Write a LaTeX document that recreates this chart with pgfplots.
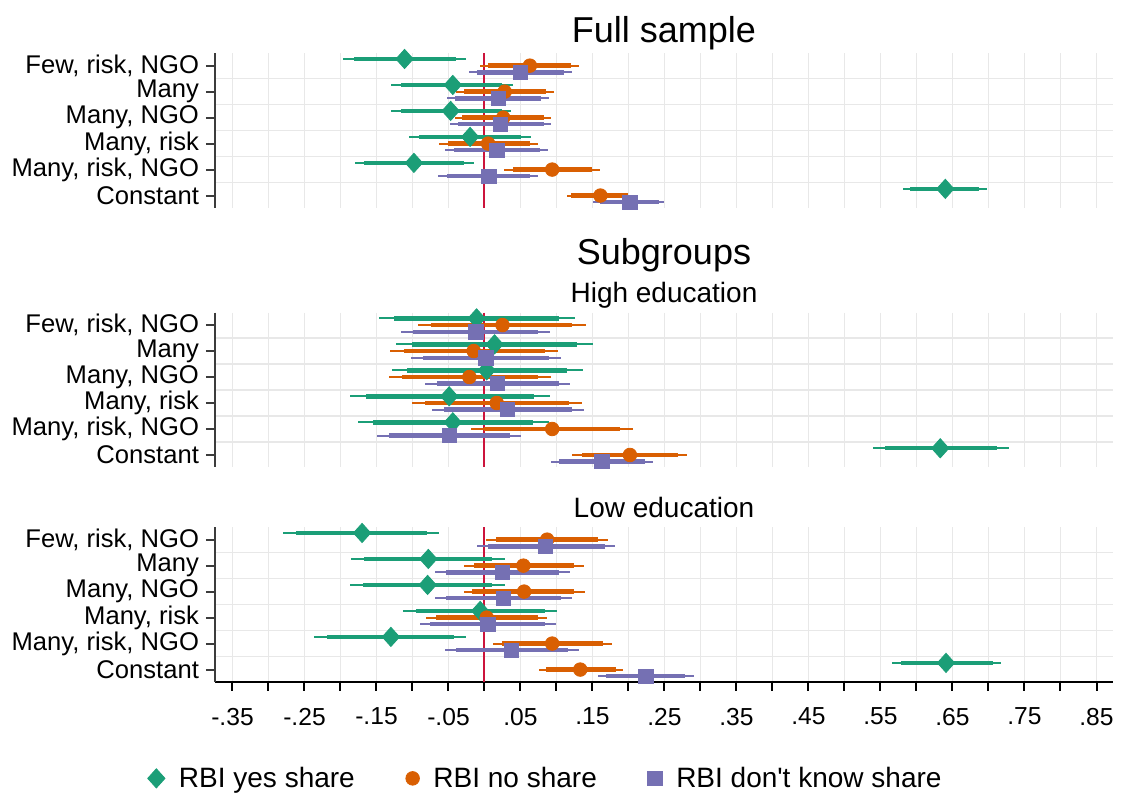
\documentclass[border=0pt]{standalone}
\usepackage{fontspec}
\setmainfont{Liberation Sans}
\newfontfamily\plainsans{Liberation Sans}
\usepackage{pgfplots}
\usepackage{pgfplotstable}
\pgfplotsset{compat=1.18}

\definecolor{cgreen}{HTML}{1B9E77}
\definecolor{corange}{HTML}{D95F02}
\definecolor{cpurple}{HTML}{7570B3}
\definecolor{refred}{RGB}{204,20,60}
\definecolor{gridgray}{RGB}{232,232,232}
\definecolor{axisgray}{RGB}{60,60,60}

% columns: category, estimate, 95% CI, 90% CI
\pgfplotstableread{
c b lo95 hi95 lo90 hi90
1 -0.111 -0.196 -0.026 -0.181 -0.040
2 -0.044 -0.130 0.039 -0.116 0.025
3 -0.047 -0.130 0.037 -0.116 0.024
4 -0.020 -0.105 0.064 -0.091 0.051
5 -0.098 -0.180 -0.015 -0.167 -0.028
6 0.640 0.581 0.698 0.591 0.687
}\fullyes
\pgfplotstableread{
c b lo95 hi95 lo90 hi90
1 0.063 -0.006 0.131 0.005 0.120
2 0.028 -0.040 0.096 -0.028 0.085
3 0.026 -0.041 0.093 -0.031 0.082
4 0.005 -0.063 0.074 -0.051 0.063
5 0.094 0.027 0.160 0.039 0.149
6 0.161 0.114 0.209 0.120 0.200
}\fullno
\pgfplotstableread{
c b lo95 hi95 lo90 hi90
1 0.050 -0.021 0.121 -0.010 0.110
2 0.019 -0.052 0.090 -0.041 0.078
3 0.022 -0.048 0.093 -0.037 0.082
4 0.017 -0.055 0.088 -0.043 0.077
5 0.006 -0.064 0.075 -0.052 0.063
6 0.202 0.151 0.250 0.160 0.243
}\fulldk

\pgfplotstableread{
c b lo95 hi95 lo90 hi90
1 -0.011 -0.147 0.126 -0.125 0.104
2 0.014 -0.123 0.151 -0.101 0.129
3 0.003 -0.129 0.137 -0.107 0.115
4 -0.049 -0.187 0.091 -0.165 0.069
5 -0.044 -0.176 0.089 -0.155 0.068
6 0.633 0.540 0.728 0.556 0.712
}\highyes
\pgfplotstableread{
c b lo95 hi95 lo90 hi90
1 0.025 -0.092 0.141 -0.074 0.122
2 -0.015 -0.131 0.102 -0.112 0.084
3 -0.021 -0.133 0.092 -0.115 0.075
4 0.017 -0.101 0.135 -0.082 0.117
5 0.094 -0.019 0.206 0.000 0.188
6 0.202 0.122 0.281 0.135 0.269
}\highno
\pgfplotstableread{
c b lo95 hi95 lo90 hi90
1 -0.012 -0.116 0.091 -0.099 0.075
2 0.002 -0.102 0.106 -0.085 0.090
3 0.018 -0.082 0.119 -0.066 0.103
4 0.032 -0.073 0.138 -0.056 0.121
5 -0.049 -0.149 0.051 -0.132 0.036
6 0.163 0.092 0.234 0.104 0.223
}\highdk

\pgfplotstableread{
c b lo95 hi95 lo90 hi90
1 -0.170 -0.280 -0.063 -0.262 -0.080
2 -0.078 -0.185 0.028 -0.168 0.011
3 -0.079 -0.187 0.028 -0.169 0.011
4 -0.006 -0.113 0.101 -0.095 0.084
5 -0.130 -0.237 -0.025 -0.219 -0.042
6 0.641 0.566 0.718 0.578 0.706
}\lowyes
\pgfplotstableread{
c b lo95 hi95 lo90 hi90
1 0.087 0.002 0.171 0.016 0.157
2 0.054 -0.028 0.138 -0.015 0.125
3 0.055 -0.029 0.139 -0.017 0.125
4 0.003 -0.081 0.087 -0.068 0.074
5 0.094 0.012 0.177 0.025 0.164
6 0.133 0.076 0.193 0.085 0.183
}\lowno
\pgfplotstableread{
c b lo95 hi95 lo90 hi90
1 0.085 -0.010 0.181 0.005 0.167
2 0.025 -0.069 0.119 -0.054 0.104
3 0.026 -0.069 0.121 -0.054 0.106
4 0.005 -0.090 0.099 -0.075 0.084
5 0.037 -0.055 0.131 -0.040 0.116
6 0.224 0.157 0.291 0.169 0.279
}\lowdk

\pgfplotsset{
  coefpanel/.style={
    scale only axis, width=449pt, height=77.3pt,
    xmin=-0.3743, xmax=0.8729, ymin=0.525, ymax=6.475, y dir=reverse,
    axis y line*=left, axis x line*=bottom,
    axis line style={-, line width=1pt, color=axisgray},
    ytick={1,2,3,4,5,6},
    yticklabels={{Few, risk, NGO},{Many},{Many, NGO},{Many, risk},{Many, risk, NGO},{Constant}},
    yticklabel style={font=\fontsize{12.8}{15}\selectfont},
    xtick={-0.35,-0.30,-0.25,-0.20,-0.15,-0.10,-0.05,0,0.05,0.10,0.15,0.20,0.25,0.30,0.35,0.40,0.45,0.50,0.55,0.60,0.65,0.70,0.75,0.80,0.85},
    xmajorgrids,
    minor ytick={1.5,2.5,3.5,4.5,5.5}, yminorgrids,
    grid style={color=gridgray, line width=0.75pt},
    tick align=outside, major tick length=4.5pt, minor tick length=0pt,
    tick style={line width=1pt, color=axisgray},
    clip=false,
    title style={font=\fontsize{18}{21}\selectfont, at={(0.5,1)}, anchor=base, yshift=-0.5pt},
  },
  hiddenx/.style={
    xticklabels={}, x axis line style={draw=none}, xtick style={draw=none},
  },
}

% one series: thin 95% interval, thick 90% interval
\newcommand{\coefci}[3]{%
  \addplot[forget plot, color=#3, only marks, mark=none,
    error bars/.cd, x dir=both, x explicit, error mark=none,
    error bar style={line width=1pt}]
    table[x=b, y expr=\thisrow{c}+(#2),
      x error plus expr=\thisrow{hi95}-\thisrow{b},
      x error minus expr=\thisrow{b}-\thisrow{lo95}] {#1};
  \addplot[forget plot, color=#3, only marks, mark=none,
    error bars/.cd, x dir=both, x explicit, error mark=none,
    error bar style={line width=2.2pt}]
    table[x=b, y expr=\thisrow{c}+(#2),
      x error plus expr=\thisrow{hi90}-\thisrow{b},
      x error minus expr=\thisrow{b}-\thisrow{lo90}] {#1};
}
\pgfplotsset{
  yesmark/.style={only marks, color=cgreen, mark=diamond*, mark size=4.8pt, mark options={xscale=1.2}},
  nomark/.style={only marks, color=corange, mark=*, mark size=3.4pt},
  dkmark/.style={only marks, color=cpurple, mark=square*, mark size=3.6pt},
}
\newcommand{\zeroline}{%
  \addplot[forget plot, color=refred, line width=1pt] coordinates {(0,0.525) (0,6.475)};
}
\newcommand{\panel}[3]{%
  \zeroline
  \coefci{#1}{-0.257}{cgreen}
  \addplot[yesmark] table[x=b, y expr=\thisrow{c}-0.257] {#1};
  \coefci{#2}{0}{corange}
  \addplot[nomark] table[x=b, y=c] {#2};
  \coefci{#3}{0.257}{cpurple}
  \addplot[dkmark] table[x=b, y expr=\thisrow{c}+0.257] {#3};
}

\begin{document}
\begin{tikzpicture}
\useasboundingbox (0,0) rectangle (560.5pt,-396.5pt);

% Full sample
\begin{axis}[coefpanel, hiddenx, at={(107.5pt,-26.65pt)}, anchor=north west,
  title={Full sample}]
  \panel{\fullyes}{\fullno}{\fulldk}
\end{axis}

% High education
\begin{axis}[coefpanel, hiddenx, at={(107.5pt,-156.35pt)}, anchor=north west,
  title={High education},
  title style={font=\fontsize{14}{17}\selectfont, yshift=-0.3pt}]
  \panel{\highyes}{\highno}{\highdk}
  \node[font=\fontsize{18}{21}\selectfont, anchor=base] at (axis description cs:0.5,1) [yshift=24.2pt] {Subgroups};
\end{axis}

% Low education
\begin{axis}[coefpanel, at={(107.5pt,-263.65pt)}, anchor=north west,
  title={Low education},
  title style={font=\fontsize{14}{17}\selectfont, yshift=-0.5pt},
  xticklabels={-.35,,-.25,,-.15,,-.05,,.05,,.15,,.25,,.35,,.45,,.55,,.65,,.75,,.85},
  xticklabel style={font=\fontsize{12.3}{15}\selectfont, yshift=-5pt},
  x axis line style={color=black}, xtick style={color=black},
  legend style={at={(0.3693,-0.624)}, anchor=center, draw=none, fill=none,
    legend columns=3, font=\plainsans\fontsize{14}{17}\selectfont,
    /tikz/every odd column/.append style={column sep=5pt},
    /tikz/every even column/.append style={column sep=23.5pt}},
  legend cell align=left]
  \panel{\lowyes}{\lowno}{\lowdk}
  \legend{RBI yes share, RBI no share, RBI don't know share}
\end{axis}
\end{tikzpicture}
\end{document}
